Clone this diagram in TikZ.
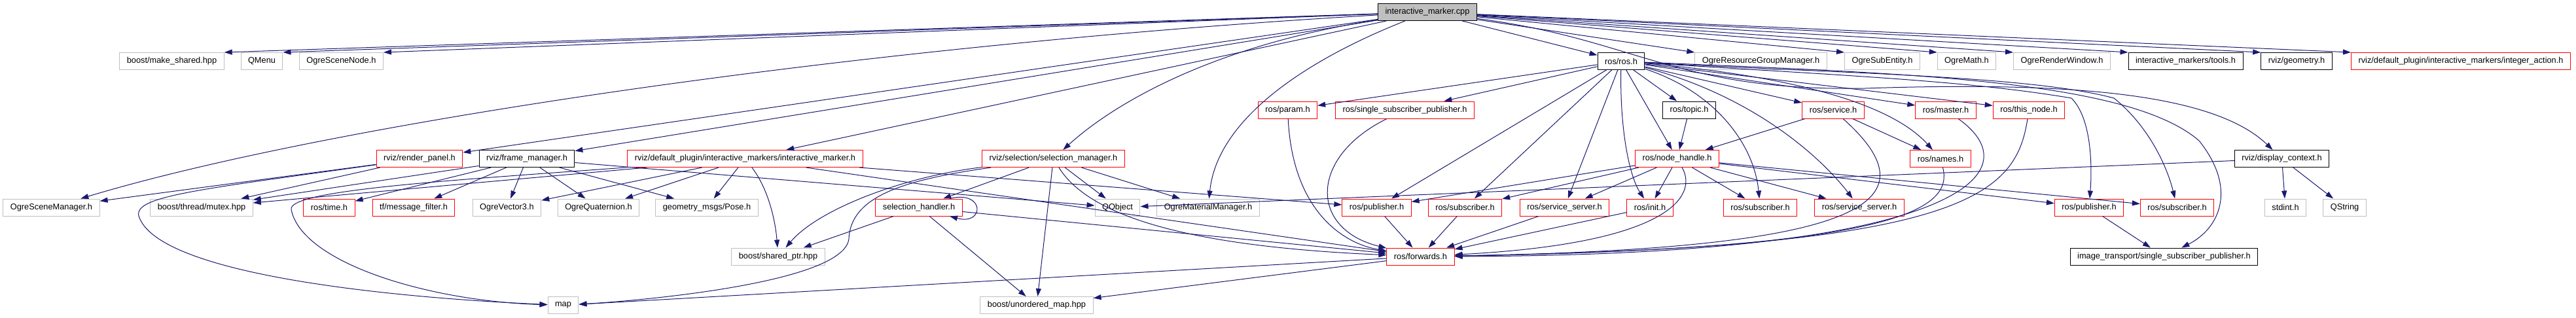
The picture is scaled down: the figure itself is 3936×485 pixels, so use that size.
\documentclass[tikz,border=0pt]{standalone}
\usepackage{fontspec}
\setmainfont{Liberation Sans}
\usetikzlibrary{arrows.meta}

\definecolor{edgeblue}{HTML}{191970}
\definecolor{boxgrey}{HTML}{BFBFBF}

\begin{document}
\begin{tikzpicture}[
        x=1pt, y=-1pt,
        box/.style={rectangle, draw, line width=1pt, minimum height=26pt, inner xsep=11pt, inner ysep=2pt, font=\fontsize{12.8}{14}\selectfont},
        root/.style={box, fill=boxgrey, draw=black},
        local/.style={box, draw=black},
        external/.style={box, draw=boxgrey},
        truncated/.style={box, draw=red},
        arrow/.style={-{Triangle[length=12pt,width=8pt]}, draw=edgeblue, fill=none, line width=1pt},
    ]
        \useasboundingbox (0,0) rectangle (3936,485);

        \node[root] (cpp) at (2181,18.5) {interactive\_marker.cpp};

        \node[external] (makeshared) at (262.5,93.5) {boost/make\_shared.hpp};
        \node[external] (qmenu) at (400,93.5) {QMenu};
        \node[external] (ogrescenenode) at (521.5,93.5) {OgreSceneNode.h};
        \node[local] (rosros) at (2477,93.5) {ros/ros.h};
        \node[external] (ogreresgrp) at (2690.5,93.5) {OgreResourceGroupManager.h};
        \node[external] (ogresubentity) at (2876,93.5) {OgreSubEntity.h};
        \node[external] (ogremath) at (3005,93.5) {OgreMath.h};
        \node[external] (ogrerenderwin) at (3150.5,93.5) {OgreRenderWindow.h};
        \node[local] (imtools) at (3339.5,93.5) {interactive\_markers/tools.h};
        \node[local] (geometry) at (3509,93.5) {rviz/geometry.h};
        \node[truncated] (intaction) at (3760,93.5) {rviz/default\_plugin/interactive\_markers/integer\_action.h};

        \node[truncated] (param) at (1967.5,168) {ros/param.h};
        \node[truncated] (singlesubpub) at (2146.5,168) {ros/single\_subscriber\_publisher.h};
        \node[local] (topic) at (2581,168) {ros/topic.h};
        \node[truncated] (service) at (2801,168) {ros/service.h};
        \node[truncated] (master) at (2973,168) {ros/master.h};
        \node[truncated] (thisnode) at (3100,168) {ros/this\_node.h};

        \node[truncated] (renderpanel) at (641,242.5) {rviz/render\_panel.h};
        \node[local] (framemgr) at (805,242.5) {rviz/frame\_manager.h};
        \node[truncated] (imarker) at (1138.5,242.5) {rviz/default\_plugin/interactive\_markers/interactive\_marker.h};
        \node[truncated] (selmgr) at (1609.5,242.5) {rviz/selection/selection\_manager.h};
        \node[truncated] (nodehandle) at (2562.5,242.5) {ros/node\_handle.h};
        \node[truncated] (names) at (2965,242.5) {ros/names.h};
        \node[local] (displayctx) at (3486.5,242.5) {rviz/display\_context.h};

        \node[external] (ogrescenemgr) at (78.5,317) {OgreSceneManager.h};
        \node[external] (mutex) at (308,317) {boost/thread/mutex.hpp};
        \node[truncated] (rostime) at (503,317) {ros/time.h};
        \node[truncated] (msgfilter) at (632,317) {tf/message\_filter.h};
        \node[external] (ogrevec) at (774.5,317) {OgreVector3.h};
        \node[external] (ogrequat) at (914.5,317) {OgreQuaternion.h};
        \node[external] (pose) at (1080,317) {geometry\_msgs/Pose.h};
        \node[truncated] (selhandler) at (1404,317) {selection\_handler.h};
        \node[external] (qobject) at (1707.5,317) {QObject};
        \node[external] (ogrematmgr) at (1846,317) {OgreMaterialManager.h};
        \node[truncated] (pubA) at (2103.5,317) {ros/publisher.h};
        \node[truncated] (subA) at (2238.5,317) {ros/subscriber.h};
        \node[truncated] (srvsrvA) at (2390.5,317) {ros/service\_server.h};
        \node[truncated] (rosinit) at (2521,317) {ros/init.h};
        \node[truncated] (subB) at (2689.5,317) {ros/subscriber.h};
        \node[truncated] (srvsrvB) at (2841,317) {ros/service\_server.h};
        \node[truncated] (pubB) at (3192,317) {ros/publisher.h};
        \node[truncated] (subC) at (3326.5,317) {ros/subscriber.h};
        \node[external] (stdint) at (3492,317) {stdint.h};
        \node[external] (qstring) at (3582.5,317) {QString};

        \node[external] (sharedptr) at (1189,392) {boost/shared\_ptr.hpp};
        \node[truncated] (forwards) at (2170.5,392) {ros/forwards.h};
        \node[local] (imgtransport) at (3306.5,392) {image\_transport/single\_subscriber\_publisher.h};

        \node[external] (map) at (860.5,466.5) {map};
        \node[external] (unorderedmap) at (1584,466.5) {boost/unordered\_map.hpp};

        % includes of the source file
        \draw[arrow] (cpp) -- (makeshared.north east);
        \draw[arrow] (cpp) -- (qmenu.north east);
        \draw[arrow] (cpp) -- (ogrescenenode.north east);
        \draw[arrow] (cpp) .. controls (1300,70) and (500,190) .. (ogrescenemgr);
        \draw[arrow] (cpp) -- (renderpanel);
        \draw[arrow] (cpp) -- (framemgr);
        \draw[arrow] (cpp) -- (imarker);
        \draw[arrow] (cpp) .. controls (1850,70) and (1700,160) .. (selmgr);
        \draw[arrow] (cpp) .. controls (2000,90) and (1860,180) .. (ogrematmgr);
        \draw[arrow] (cpp) -- (rosros);
        \draw[arrow] (cpp) -- (ogreresgrp.north west);
        \draw[arrow] (cpp) -- (ogresubentity.north west);
        \draw[arrow] (cpp) -- (ogremath.north west);
        \draw[arrow] (cpp) -- (ogrerenderwin.north west);
        \draw[arrow] (cpp) -- (imtools.north west);
        \draw[arrow] (cpp) -- (geometry.north west);
        \draw[arrow] (cpp) -- (intaction.north west);
        \draw[arrow] (cpp) .. controls (2500,60) and (2560,140) .. (2850,135) .. controls (3150,125) and (3380,140) .. (displayctx);

        % rviz headers
        \draw[arrow] (renderpanel) -- (ogrescenemgr);
        \draw[arrow] (renderpanel) -- (mutex);
        \draw[arrow] (renderpanel) .. controls (300,290) and (205,300) .. (212,330) .. controls (240,420) and (600,455) .. (map);
        \draw[arrow] (framemgr) -- (mutex);
        \draw[arrow] (framemgr) -- (rostime);
        \draw[arrow] (framemgr) -- (msgfilter);
        \draw[arrow] (framemgr) -- (ogrevec);
        \draw[arrow] (framemgr) -- (ogrequat);
        \draw[arrow] (framemgr) -- (pose);
        \draw[arrow] (framemgr) -- (qobject);
        \draw[arrow] (imarker) -- (mutex);
        \draw[arrow] (imarker) .. controls (700,275) and (440,290) .. (445,320) .. controls (460,400) and (650,460) .. (map);
        \draw[arrow] (imarker) -- (ogrevec);
        \draw[arrow] (imarker) -- (ogrequat);
        \draw[arrow] (imarker) -- (pose);
        \draw[arrow] (imarker) .. controls (1175,290) and (1185,340) .. (sharedptr);
        \draw[arrow] (imarker) -- (pubA);
        \draw[arrow] (imarker) -- (forwards);
        \draw[arrow] (selmgr) -- (selhandler);
        \draw[arrow] (selmgr) .. controls (1380,270) and (1250,320) .. (sharedptr);
        \draw[arrow] (selmgr) .. controls (1380,275) and (1300,300) .. (1297,365) .. controls (1290,430) and (1000,458) .. (map);
        \draw[arrow] (selmgr) -- (unorderedmap);
        \draw[arrow] (selmgr) -- (qobject);
        \draw[arrow] (selmgr) -- (ogrematmgr);
        \draw[arrow] (selmgr) .. controls (1670,340) and (1850,378) .. (forwards);
        \draw[arrow] (selhandler.16) .. controls (1505,290) and (1505,345) .. (selhandler.-16);
        \draw[arrow] (selhandler) -- (sharedptr);
        \draw[arrow] (selhandler) -- (unorderedmap);
        \draw[arrow] (selhandler) -- (forwards);
        \draw[arrow] (displayctx) -- (qobject);
        \draw[arrow] (displayctx) -- (stdint);
        \draw[arrow] (displayctx) -- (qstring);

        % ros headers
        \draw[arrow] (rosros) -- (param);
        \draw[arrow] (rosros) -- (singlesubpub);
        \draw[arrow] (rosros) -- (pubA);
        \draw[arrow] (rosros) -- (subA);
        \draw[arrow] (rosros) -- (srvsrvA);
        \draw[arrow] (rosros) .. controls (2475,200) and (2490,270) .. (rosinit);
        \draw[arrow] (rosros) -- (nodehandle);
        \draw[arrow] (rosros) -- (topic);
        \draw[arrow] (rosros) -- (service);
        \draw[arrow] (rosros) -- (master);
        \draw[arrow] (rosros) -- (thisnode);
        \draw[arrow] (rosros) .. controls (2780,120) and (2900,170) .. (names);
        \draw[arrow] (rosros) .. controls (2620,140) and (2680,220) .. (subB);
        \draw[arrow] (rosros) .. controls (2690,150) and (2790,250) .. (srvsrvB);
        \draw[arrow] (rosros) .. controls (2800,115) and (3000,122) .. (3165,150) .. controls (3195,180) and (3197,250) .. (pubB);
        \draw[arrow] (rosros) .. controls (2800,112) and (3100,115) .. (3230,150) .. controls (3280,190) and (3310,250) .. (subC);
        \draw[arrow] (rosros) .. controls (2900,112) and (3250,120) .. (3360,215) .. controls (3420,290) and (3390,350) .. (imgtransport);
        \draw[arrow] (topic) -- (nodehandle);
        \draw[arrow] (service) -- (nodehandle);
        \draw[arrow] (service) -- (names);
        \draw[arrow] (service) .. controls (2960,310) and (2850,380) .. (forwards);
        \draw[arrow] (master) .. controls (3110,265) and (2990,390) .. (forwards);
        \draw[arrow] (thisnode) .. controls (3080,300) and (3000,378) .. (forwards);
        \draw[arrow] (names) .. controls (2985,320) and (2900,380) .. (forwards);
        \draw[arrow] (param) .. controls (1975,320) and (2050,372) .. (forwards);
        \draw[arrow] (singlesubpub) .. controls (2000,240) and (2000,350) .. (forwards);
        \draw[arrow] (nodehandle) -- (pubA);
        \draw[arrow] (nodehandle) -- (subA);
        \draw[arrow] (nodehandle) -- (srvsrvA);
        \draw[arrow] (nodehandle) -- (rosinit);
        \draw[arrow] (nodehandle) -- (subB);
        \draw[arrow] (nodehandle) -- (srvsrvB);
        \draw[arrow] (nodehandle) -- (pubB);
        \draw[arrow] (nodehandle) -- (subC);
        \draw[arrow] (nodehandle) .. controls (2595,300) and (2550,372) .. (forwards);
        \draw[arrow] (pubA) -- (forwards);
        \draw[arrow] (subA) -- (forwards);
        \draw[arrow] (srvsrvA) -- (forwards);
        \draw[arrow] (rosinit) -- (forwards);
        \draw[arrow] (pubB) -- (imgtransport);
        \draw[arrow] (forwards) -- (map);
        \draw[arrow] (forwards) -- (unorderedmap);
    \end{tikzpicture}
\end{document}
